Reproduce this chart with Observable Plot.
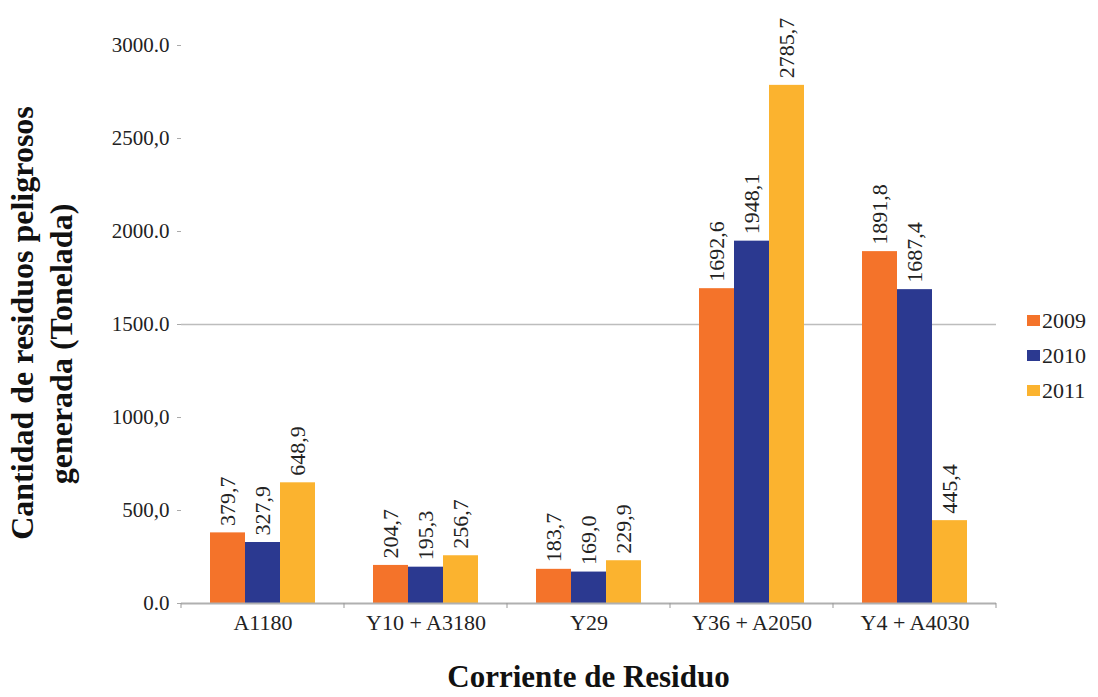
<!DOCTYPE html>
<html>
<head>
<meta charset="utf-8">
<script src="https://cdn.jsdelivr.net/npm/d3@7"></script>
<script src="https://cdn.jsdelivr.net/npm/@observablehq/plot@0.6"></script>
<style>
  html, body { margin: 0; padding: 0; background: #fff; }
  #wrap { position: relative; width: 1098px; height: 697px; font-family: "Liberation Serif", "DejaVu Serif", serif; }
  #legend { position: absolute; left: 1027px; top: 303px; font-size: 22px; color: #222; font-family: "Liberation Serif", serif; }
  #legend .item { display: flex; align-items: center; height: 35px; }
  #legend .sw { width: 13px; height: 11px; margin-right: 2px; }
  #chart svg text { font-family: "Liberation Serif", serif !important; }
</style>
</head>
<body>
<div id="wrap"><div id="chart"></div><div id="legend"></div></div>
<script>
const categories = ["A1180", "Y10 + A3180", "Y29", "Y36 + A2050", "Y4 + A4030"];
const years = ["2009", "2010", "2011"];
const values2009 = [379.7, 204.7, 183.7, 1692.6, 1891.8];
const values2010 = [327.9, 195.3, 169.0, 1948.1, 1687.4];
const values2011 = [648.9, 256.7, 229.9, 2785.7, 445.4];
const colors = ["#F4732A", "#2B3990", "#FBB32F"];
const yTicks = [0, 500, 1000, 1500, 2000, 2500, 3000];
const yTickLabels = ["0.0", "500,0", "1000,0", "1500.0", "2000.0", "2500,0", "3000.0"];
const gridValues = [1500];
const xTitle = "Corriente de Residuo";
const yTitleLines = ["Cantidad de residuos peligrosos", "generada (Tonelada)"];

const series = [values2009, values2010, values2011];
const data = [];
categories.forEach((c, i) => years.forEach((y, j) => data.push({cat: c, year: y, value: series[j][i]})));
const fmt = v => d3.format(".1f")(v).replace(".", ",");
const FONT = "'Liberation Serif', serif";

const W = 1098, H = 697;
const plot = Plot.plot({
  width: W, height: H,
  marginLeft: 180, marginRight: 101, marginTop: 45, marginBottom: 94,
  style: {fontFamily: FONT, fontSize: "21px", color: "#222", background: "#fff"},
  fx: {domain: categories, paddingInner: 0, paddingOuter: 0, label: null, axis: null},
  x: {domain: years, paddingInner: 0, paddingOuter: 0.79, axis: null},
  y: {domain: [0, 3000], label: null, axis: null},
  color: {domain: years, range: colors},
  marks: [
    Plot.ruleY(gridValues, {stroke: "#bdbdbd", strokeWidth: 1.5}),
    Plot.barY(data, {fx: "cat", x: "year", y: "value", fill: "year"}),
    Plot.ruleY([0], {stroke: "#b0b0b0", strokeWidth: 2}),
    Plot.text(data, {fx: "cat", x: "year", y: "value", text: d => fmt(d.value), rotate: -90, textAnchor: "start", dy: -7, fontSize: 22, fontFamily: FONT, fill: "#222"}),
    Plot.axisY({ticks: yTicks, tickSize: 4, tickPadding: 8, stroke: "#aaa", fill: "#222", tickFormat: (d) => yTickLabels[yTicks.indexOf(d)], label: null, fontSize: 21, fontFamily: FONT}),
    Plot.axisFx({anchor: "bottom", tickSize: 0, tickPadding: 11, fontSize: 22, fontFamily: FONT, label: null, fill: "#222"})
  ]
});
document.getElementById("chart").appendChild(plot);

const svg = d3.select(plot);
const fx = plot.scale("fx");
const yScale = plot.scale("y");
const y0 = yScale.apply(0);
const bw = fx.bandwidth;
// category boundary ticks
const edges = categories.map(c => fx.apply(c)).concat([fx.apply(categories[categories.length - 1]) + bw]);
svg.append("g").selectAll("line").data(edges).join("line")
  .attr("x1", d => d).attr("x2", d => d).attr("y1", y0).attr("y2", y0 + 5)
  .attr("stroke", "#999").attr("stroke-width", 1);

// axis titles
const plotLeft = edges[0];
const plotRight = edges[edges.length - 1];
svg.append("text")
  .attr("x", (plotLeft + plotRight) / 2).attr("y", 687)
  .attr("text-anchor", "middle")
  .style("font-family", FONT).attr("font-weight", "bold").attr("font-size", 31)
  .attr("fill", "#111").text(xTitle);
const titleCenters = [323, 344];
yTitleLines.forEach((t, i) => {
  svg.append("text")
    .attr("transform", `translate(${33 + i * 39},${titleCenters[i]}) rotate(-90)`)
    .attr("text-anchor", "middle")
    .style("font-family", FONT).attr("font-weight", "bold").attr("font-size", 32)
    .attr("fill", "#111").text(t);
});

// legend
const leg = d3.select("#legend");
years.forEach((y, i) => {
  const it = leg.append("div").attr("class", "item");
  it.append("div").attr("class", "sw").style("background", colors[i]);
  it.append("span").text(y);
});
</script>
</body>
</html>
